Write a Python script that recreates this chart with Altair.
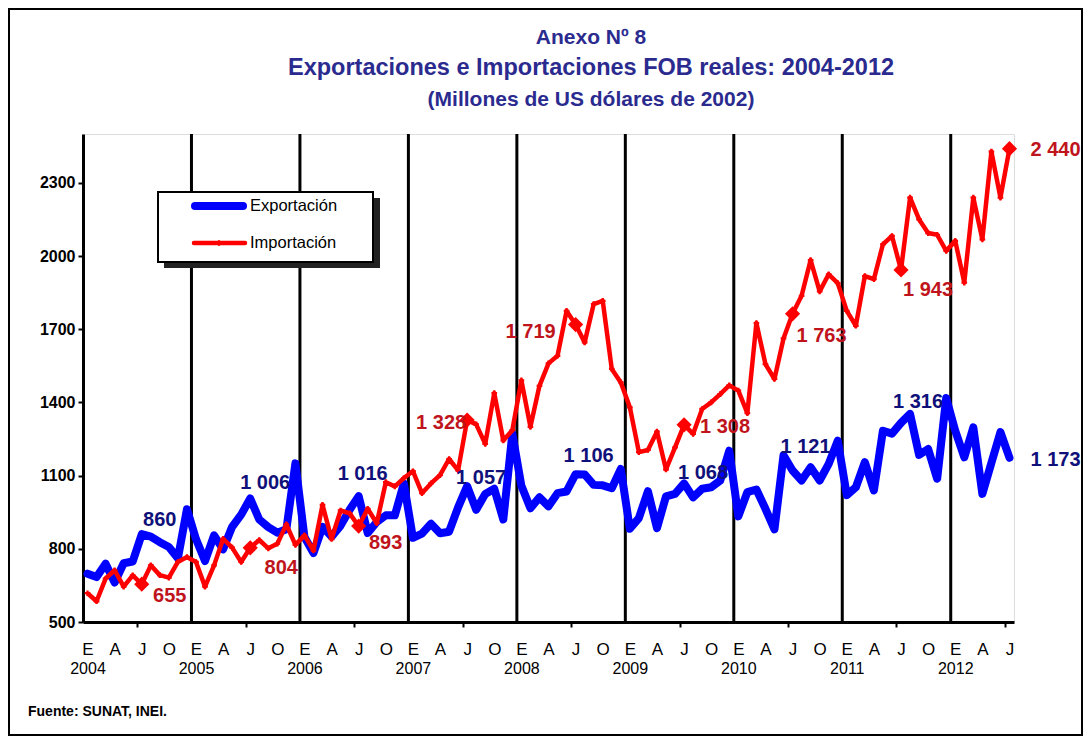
import altair as alt
import pandas as pd

# ---------------- data ----------------
YEARS = [2004, 2005, 2006, 2007, 2008, 2009, 2010, 2011, 2012]
MONTH_LETTERS = ["E", "F", "M", "A", "M", "J", "J", "A", "S", "O", "N", "D"]
SERIES = ["Exportación", "Importación"]

EXPORTACION = [
    698, 684, 739, 662, 741, 748, 860, 850, 827, 807, 761, 962,
    840, 750, 855, 798, 890, 940, 1006, 920, 889, 866, 880, 1150,
    848, 783, 890, 850, 895, 960, 1016, 865, 910, 937, 937, 1068,
    845, 862, 903, 864, 870, 970, 1057, 960, 1025, 1046, 920, 1272,
    1058, 966, 1011, 974, 1028, 1035, 1106, 1105, 1062, 1060, 1048, 1127,
    882, 926, 1036, 885, 1015, 1025, 1068, 1011, 1046, 1052, 1080, 1202,
    933, 1032, 1043, 964, 880, 1183, 1121, 1080, 1134, 1080, 1148, 1243,
    1020, 1052, 1155, 1039, 1284, 1272, 1316, 1353, 1185, 1209, 1087, 1418,
    1284, 1175, 1298, 1025, 1152, 1278, 1173,
]
IMPORTACION = [
    618, 585, 678, 712, 645, 691, 655, 732, 692, 682, 746, 766,
    746, 645, 732, 841, 805, 746, 804, 836, 802, 821, 900, 816,
    855, 793, 980, 840, 957, 945, 893, 964, 905, 1073, 1056, 1090,
    1118, 1028, 1068, 1102, 1168, 1121, 1328, 1310, 1230, 1438, 1244, 1286,
    1490, 1300, 1468, 1560, 1591, 1775, 1719, 1646, 1803, 1816, 1537, 1482,
    1380, 1196, 1205, 1280, 1125, 1216, 1308, 1271, 1373, 1400, 1434, 1470,
    1448, 1356, 1725, 1557, 1496, 1662, 1763, 1837, 1983, 1855, 1925, 1889,
    1775, 1714, 1918, 1905, 2048, 2082, 1943, 2239, 2150, 2094, 2087, 2021,
    2062, 1891, 2239, 2068, 2428, 2239, 2440,
]
Y_TICKS = [500, 800, 1100, 1400, 1700, 2000, 2300]
LABEL_MONTH = 6  # julio: meses con etiqueta y rombo

TITLE_1 = "Anexo Nº 8"
TITLE_2 = "Exportaciones e Importaciones FOB reales: 2004-2012"
TITLE_3 = "(Millones de US dólares de 2002)"
SOURCE = "Fuente: SUNAT, INEI."

# ---------------- layout / style ----------------
W, H = 931, 488
FONT = "Liberation Sans, Arial, sans-serif"
NARROW = "Liberation Sans Narrow, Arial Narrow, Liberation Sans, sans-serif"
BLUE, RED = "#0000FF", "#FF0000"
BLUE_LAB, RED_LAB = "#10107A", "#C0141C"
TITLE_COL = "#2B2B8F"

# label offsets (px) of the July data labels, per series and year
OFF_EXP = {2004: (18, -14), 2005: (15, -16), 2006: (4, -22), 2007: (14, -8),
           2008: (13, -18), 2009: (19, -10), 2010: (13, -23), 2011: (17, -21),
           2012: (46, 2)}
OFF_IMP = {2004: (28, 12), 2005: (31, 20), 2006: (27, 17), 2007: (-26, 3),
           2008: (-45, 7), 2009: (41, 2), 2010: (29, 22), 2011: (27, 20),
           2012: (46, 1)}

n = len(EXPORTACION)
rows = []
for s, vals in zip(SERIES, [EXPORTACION, IMPORTACION]):
    for i, v in enumerate(vals):
        rows.append({"i": i, "serie": s, "valor": v,
                     "anio": YEARS[0] + i // 12, "mes": i % 12})
df = pd.DataFrame(rows)

xs = alt.Scale(domain=[-0.5, n - 0.5], nice=False, zero=False)
ys = alt.Scale(domain=[500, 2500], nice=False, zero=False)

letters = "[" + ",".join("'%s'" % m for m in MONTH_LETTERS) + "]"
month_axis = alt.Axis(
    values=list(range(0, n, 3)), labelExpr=letters + "[datum.value % 12]",
    orient="bottom", ticks=False, tickSize=0, domain=True, domainColor="black",
    domainWidth=3, labelFont=NARROW, labelFontSize=17, labelColor="black",
    labelPadding=19, labelFlush=False, labelAngle=0, labelOverlap=False,
    grid=False, title=None)
year_axis = alt.Axis(
    values=[12 * k for k in range(len(YEARS))],
    labelExpr="'' + (%d + round(datum.value / 12))" % YEARS[0],
    orient="bottom", ticks=False, tickSize=0, domain=False,
    labelFont=NARROW, labelFontSize=16, labelColor="black", labelPadding=38,
    labelFlush=False, labelAngle=0, labelOverlap=False, grid=False, title=None)
tick_axis = alt.Axis(
    values=[12 * k + 5.5 for k in range(len(YEARS))], orient="bottom",
    labels=False, domain=False, ticks=True, tickSize=5, tickWidth=2,
    tickColor="black", grid=False, title=None)
y_axis = alt.Axis(
    values=Y_TICKS, format="d", orient="left", labelFont=FONT,
    labelFontWeight="bold", labelFontSize=16, labelColor="black", tickSize=5,
    tickWidth=2, tickColor="black", domainColor="black", domainWidth=3,
    labelPadding=3, grid=False, title=None)

base = alt.Chart(df)
exp_df = base.transform_filter(alt.datum.serie == SERIES[0])
imp_df = base.transform_filter(alt.datum.serie == SERIES[1])

div_df = pd.DataFrame({"b": [12 * k - 0.5 for k in range(1, len(YEARS))]})
dividers = alt.Chart(div_df).mark_rule(color="black", strokeWidth=3).encode(
    x=alt.X("b:Q", scale=xs, axis=None))

blue_line = exp_df.mark_line(color=BLUE, strokeWidth=8, strokeJoin="round",
                             strokeCap="round").encode(
    x=alt.X("i:Q", scale=xs, axis=month_axis),
    y=alt.Y("valor:Q", scale=ys, axis=y_axis))
red_line = imp_df.mark_line(color=RED, strokeWidth=4.5, strokeJoin="round").encode(
    x=alt.X("i:Q", scale=xs, axis=year_axis),
    y=alt.Y("valor:Q", scale=ys, axis=None))
red_marks = imp_df.mark_point(shape="cross", filled=True, size=32, color=RED,
                              opacity=1).encode(
    x=alt.X("i:Q", scale=xs, axis=tick_axis),
    y=alt.Y("valor:Q", scale=ys, axis=None))
diamonds = imp_df.transform_filter(alt.datum.mes == LABEL_MONTH).mark_point(
    shape="diamond", filled=True, size=230, color=RED, opacity=1).encode(
    x=alt.X("i:Q", scale=xs, axis=None),
    y=alt.Y("valor:Q", scale=ys, axis=None))

label_layers = []
for s, offs, col in [(SERIES[0], OFF_EXP, BLUE_LAB), (SERIES[1], OFF_IMP, RED_LAB)]:
    for yr, (dx, dy) in offs.items():
        lay = base.transform_filter(
            (alt.datum.serie == s) & (alt.datum.mes == LABEL_MONTH) & (alt.datum.anio == yr)
        ).transform_calculate(
            lab="replace(format(datum.valor, ','), ',', ' ')"
        ).mark_text(font=FONT, fontWeight="bold", fontSize=20, color=col,
                    align="center", baseline="middle", dx=dx, dy=dy).encode(
            x=alt.X("i:Q", scale=xs, axis=None),
            y=alt.Y("valor:Q", scale=ys, axis=None),
            text="lab:N")
        label_layers.append(lay)

# legend (drawn as marks, inside the plot)
one = pd.DataFrame({"k": [0]})
frame = alt.Chart(one).mark_rect(fill=None, stroke="black", strokeWidth=2).encode(
    x=alt.value(-74), x2=alt.value(999), y=alt.value(-125), y2=alt.value(601))
leg_shadow = alt.Chart(one).mark_rect(color="#222222").encode(
    x=alt.value(81), x2=alt.value(297), y=alt.value(64), y2=alt.value(134))
leg_box = alt.Chart(one).mark_rect(fill="white", stroke="black", strokeWidth=2).encode(
    x=alt.value(75), x2=alt.value(290), y=alt.value(58), y2=alt.value(128))
leg_blue = alt.Chart(one).mark_rule(color=BLUE, strokeWidth=8, strokeCap="round").encode(
    x=alt.value(112), x2=alt.value(160), y=alt.value(72))
leg_red = alt.Chart(one).mark_rule(color=RED, strokeWidth=4.5, strokeCap="round").encode(
    x=alt.value(111), x2=alt.value(162), y=alt.value(109))
leg_redm = alt.Chart(one).mark_point(shape="cross", filled=True, size=32, color=RED,
                                     opacity=1).encode(
    x=alt.value(136), y=alt.value(109))
leg_t1 = alt.Chart(pd.DataFrame({"t": [SERIES[0]]})).mark_text(
    font=NARROW, fontSize=16.5, color="black", align="left", baseline="middle").encode(
    x=alt.value(167), y=alt.value(72), text="t:N")
leg_t2 = alt.Chart(pd.DataFrame({"t": [SERIES[1]]})).mark_text(
    font=NARROW, fontSize=16.5, color="black", align="left", baseline="middle").encode(
    x=alt.value(167), y=alt.value(109), text="t:N")

def text_at(t, x, y, size, bold=True, col="black", font=NARROW, align="center"):
    return alt.Chart(pd.DataFrame({"t": [t]})).mark_text(
        font=font, fontSize=size, fontWeight="bold" if bold else "normal",
        color=col, align=align, baseline="middle").encode(
        x=alt.value(x), y=alt.value(y), text="t:N")

t1 = text_at(TITLE_1, 508, -96, 21, col=TITLE_COL)
t2 = text_at(TITLE_2, 508, -66, 23.5, col=TITLE_COL)
t3 = text_at(TITLE_3, 508, -34, 21, col=TITLE_COL)
src = text_at(SOURCE, -55, 578, 14, align="left")

chart = alt.layer(
    frame, dividers, blue_line, red_line, red_marks, diamonds, *label_layers,
    leg_shadow, leg_box, leg_blue, leg_red, leg_redm, leg_t1, leg_t2,
    t1, t2, t3, src,
).resolve_axis(x="independent", y="independent").properties(
    width=W, height=H,
    autosize=alt.AutoSizeParams(type="none"),
    padding={"left": 75, "top": 126, "right": 69, "bottom": 114},
).configure_view(stroke="#999999", strokeWidth=3).configure(background="white")

chart.save("out.html", embed_options={"renderer": "svg", "actions": False})
